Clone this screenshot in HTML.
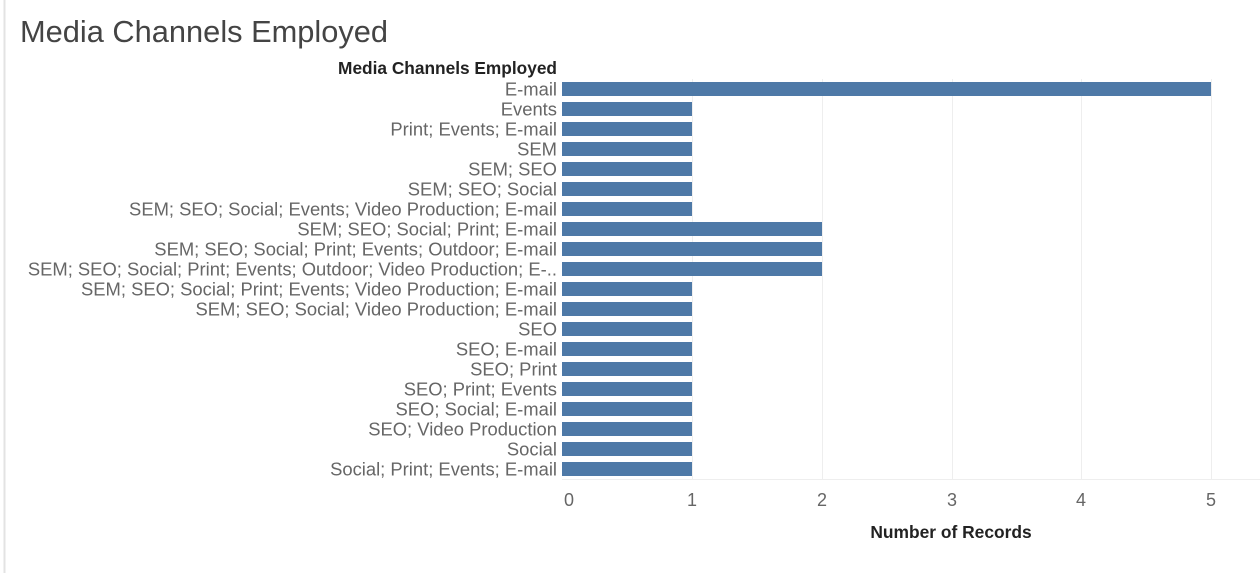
<!DOCTYPE html>
<html><head><meta charset="utf-8"><style>
body{margin:0;width:1260px;height:573px;background:#fff;overflow:hidden;font-family:"Liberation Sans",sans-serif;}
</style></head><body>
<svg width="1260" height="573" xmlns="http://www.w3.org/2000/svg" font-family="Liberation Sans, sans-serif">
<line x1="4.5" y1="0" x2="4.5" y2="573" stroke="#e3e3e3" stroke-width="2"/>
<text x="20" y="42" font-size="30.8" fill="#444" font-weight="300">Media Channels Employed</text>
<text x="557" y="74" font-size="17.3" fill="#222" font-weight="bold" text-anchor="end">Media Channels Employed</text>
<g stroke="#eeeeee" stroke-width="1">
<line x1="692.5" y1="79" x2="692.5" y2="479"/><line x1="822.5" y1="79" x2="822.5" y2="479"/><line x1="952.5" y1="79" x2="952.5" y2="479"/><line x1="1081.5" y1="79" x2="1081.5" y2="479"/><line x1="1211.5" y1="79" x2="1211.5" y2="479"/>
<line x1="562" y1="479.5" x2="1260" y2="479.5"/>
</g>
<g fill="#4e79a7">
<rect x="562" y="82" width="649" height="14"/>
<rect x="562" y="102" width="130" height="14"/>
<rect x="562" y="122" width="130" height="14"/>
<rect x="562" y="142" width="130" height="14"/>
<rect x="562" y="162" width="130" height="14"/>
<rect x="562" y="182" width="130" height="14"/>
<rect x="562" y="202" width="130" height="14"/>
<rect x="562" y="222" width="260" height="14"/>
<rect x="562" y="242" width="260" height="14"/>
<rect x="562" y="262" width="260" height="14"/>
<rect x="562" y="282" width="130" height="14"/>
<rect x="562" y="302" width="130" height="14"/>
<rect x="562" y="322" width="130" height="14"/>
<rect x="562" y="342" width="130" height="14"/>
<rect x="562" y="362" width="130" height="14"/>
<rect x="562" y="382" width="130" height="14"/>
<rect x="562" y="402" width="130" height="14"/>
<rect x="562" y="422" width="130" height="14"/>
<rect x="562" y="442" width="130" height="14"/>
<rect x="562" y="462" width="130" height="14"/>
</g>
<g font-size="18.4" fill="#666" text-anchor="end">
<text x="557" y="95.5">E-mail</text>
<text x="557" y="115.5">Events</text>
<text x="557" y="135.5">Print; Events; E-mail</text>
<text x="557" y="155.5">SEM</text>
<text x="557" y="175.5">SEM; SEO</text>
<text x="557" y="195.5">SEM; SEO; Social</text>
<text x="557" y="215.5">SEM; SEO; Social; Events; Video Production; E-mail</text>
<text x="557" y="235.5">SEM; SEO; Social; Print; E-mail</text>
<text x="557" y="255.5">SEM; SEO; Social; Print; Events; Outdoor; E-mail</text>
<text x="557" y="275.5">SEM; SEO; Social; Print; Events; Outdoor; Video Production; E-..</text>
<text x="557" y="295.5">SEM; SEO; Social; Print; Events; Video Production; E-mail</text>
<text x="557" y="315.5">SEM; SEO; Social; Video Production; E-mail</text>
<text x="557" y="335.5">SEO</text>
<text x="557" y="355.5">SEO; E-mail</text>
<text x="557" y="375.5">SEO; Print</text>
<text x="557" y="395.5">SEO; Print; Events</text>
<text x="557" y="415.5">SEO; Social; E-mail</text>
<text x="557" y="435.5">SEO; Video Production</text>
<text x="557" y="455.5">Social</text>
<text x="557" y="475.5">Social; Print; Events; E-mail</text>
</g>
<g font-size="18" fill="#666" text-anchor="middle">
<text x="569" y="506">0</text><text x="692" y="506">1</text><text x="822" y="506">2</text><text x="952" y="506">3</text><text x="1081" y="506">4</text><text x="1211" y="506">5</text>
</g>
<text x="951" y="538" font-size="17.4" fill="#222" font-weight="bold" text-anchor="middle">Number of Records</text>
</svg>
</body></html>
